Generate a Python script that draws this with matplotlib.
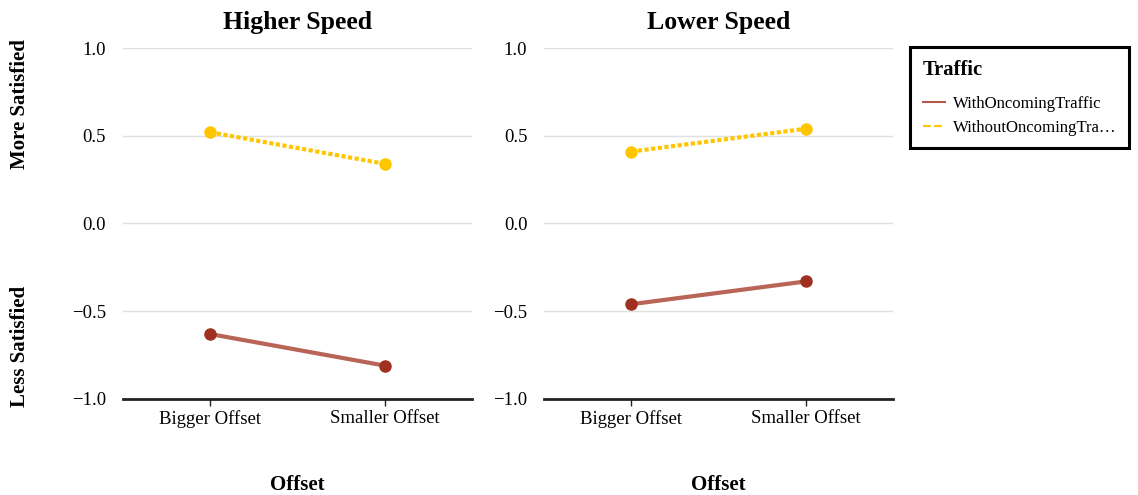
import matplotlib.pyplot as plt
from matplotlib.lines import Line2D

plt.rcParams['font.family'] = ['Liberation Serif', 'DejaVu Serif']

# data
panels = ["Higher Speed", "Lower Speed"]
offsets = ["Bigger Offset", "Smaller Offset"]
with_traffic = [[-0.63, -0.81], [-0.46, -0.33]]
without_traffic = [[0.52, 0.34], [0.41, 0.54]]
series_names = ["WithOncomingTraffic", "WithoutOncomingTra\u2026"]

red = "#a0301f"
yellow = "#ffc600"

fig = plt.figure(figsize=(11.38, 4.95), dpi=100)
axes = [fig.add_axes([0.108, 0.194, 0.307, 0.709]),
        fig.add_axes([0.478, 0.194, 0.307, 0.709])]

x = list(range(len(offsets)))
for i, ax in enumerate(axes):
    ax.plot(x, with_traffic[i], color=red, lw=3, alpha=0.75, zorder=3, clip_on=False)
    ax.plot(x, with_traffic[i], 'o', color=red, ms=8, zorder=4, clip_on=False)
    ax.plot(x, without_traffic[i], color=yellow, lw=3, ls=(0, (1, 0.6)), zorder=3, clip_on=False)
    ax.plot(x, without_traffic[i], 'o', color=yellow, ms=8, zorder=4, clip_on=False)

    ax.set_xlim(-0.5, 1.5)
    ax.set_ylim(-1, 1)
    ax.set_yticks([-1.0, -0.5, 0.0, 0.5, 1.0])
    ax.set_yticklabels(["\u22121.0", "\u22120.5", "0.0", "0.5", "1.0"])
    ax.set_xticks(x)
    ax.set_xticklabels(offsets)
    ax.tick_params(axis='y', length=0, labelsize=13.5, pad=12)
    ax.tick_params(axis='x', length=5, width=1, labelsize=13.5, color="#222222", pad=3)
    ax.grid(axis='y', color="#e0e0e0", lw=1)
    ax.set_axisbelow(True)
    for s in ["top", "right", "left"]:
        ax.spines[s].set_visible(False)
    ax.spines["bottom"].set_linewidth(2)
    ax.spines["bottom"].set_color("#222222")
    ax.set_title(panels[i], fontsize=18.5, fontweight='bold', pad=14)
    ax.set_xlabel("Offset", fontsize=15, fontweight='bold', labelpad=34)

fig.text(0.018, 0.79, "More Satisfied", rotation=90, ha='center', va='center',
         fontsize=15, fontweight='bold')
fig.text(0.018, 0.30, "Less Satisfied", rotation=90, ha='center', va='center',
         fontsize=15, fontweight='bold')

handles = [Line2D([], [], color=red, lw=1.5, alpha=0.8),
           Line2D([], [], color=yellow, lw=1.5, ls='--')]
leg = fig.legend(handles, series_names, title="Traffic", loc='upper left',
                 bbox_to_anchor=(0.8, 0.905), borderaxespad=0, frameon=True,
                 fancybox=False, framealpha=1, fontsize=12.1, handlelength=1.3,
                 handletextpad=0.5, borderpad=0.75, labelspacing=0.45,
                 alignment='left')
leg.get_title().set_fontweight('bold')
leg.get_title().set_fontsize(14.8)
leg._legend_box.sep = 12
leg.get_frame().set_edgecolor('black')
leg.get_frame().set_linewidth(2.2)

plt.savefig("out.png", dpi=100)
